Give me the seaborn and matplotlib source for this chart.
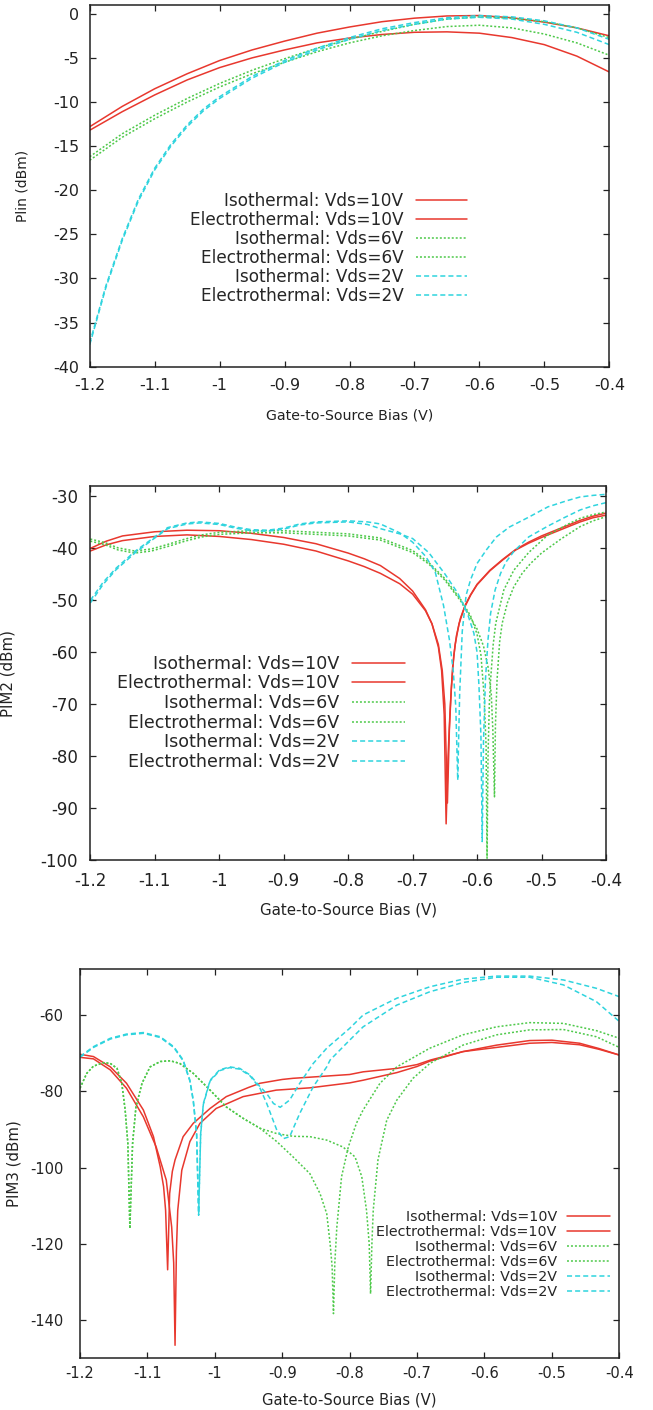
import matplotlib
matplotlib.use("Agg")
import matplotlib.pyplot as plt
import seaborn as sns
from pandas import DataFrame

# ---------------- shared axis data ----------------
x_ticks = [-1.2, -1.1, -1.0, -0.9, -0.8, -0.7, -0.6, -0.5, -0.4]
x_tick_labels = ["-1.2", "-1.1", "-1", "-0.9", "-0.8", "-0.7", "-0.6", "-0.5", "-0.4"]
labels = ["Isothermal: Vds=10V", "Electrothermal: Vds=10V",
          "Isothermal: Vds=6V", "Electrothermal: Vds=6V",
          "Isothermal: Vds=2V", "Electrothermal: Vds=2V"]

# ---------------- panel 1: Plin ----------------
plin_y_ticks = [0, -5, -10, -15, -20, -25, -30, -35, -40]
plin_x = [-1.2, -1.15, -1.1, -1.05, -1.0, -0.95, -0.9, -0.85, -0.8, -0.75, -0.7,
          -0.65, -0.6, -0.55, -0.5, -0.45, -0.4]
plin_iso_10 = [-12.8, -10.5, -8.5, -6.8, -5.3, -4.1, -3.1, -2.2, -1.5, -0.9, -0.5,
               -0.25, -0.2, -0.45, -0.95, -1.6, -2.5]
plin_elec_10 = [-13.2, -11.1, -9.2, -7.5, -6.1, -5.0, -4.1, -3.3, -2.75, -2.35, -2.1,
                -2.05, -2.2, -2.7, -3.5, -4.8, -6.6]
plin_iso_6 = [-16.2, -13.6, -11.5, -9.6, -7.9, -6.4, -5.1, -3.9, -2.9, -2.0, -1.2,
              -0.6, -0.35, -0.5, -0.9, -1.6, -2.7]
plin_elec_6 = [-16.6, -14.0, -11.9, -10.0, -8.3, -6.8, -5.5, -4.3, -3.3, -2.5, -1.9,
               -1.45, -1.3, -1.6, -2.3, -3.3, -4.7]
plin_x2 = [-1.2, -1.175, -1.15, -1.125, -1.1, -1.075, -1.05, -1.025, -1.0, -0.95, -0.9,
           -0.85, -0.8, -0.75, -0.7, -0.65, -0.6, -0.55, -0.5, -0.45, -0.4]
plin_iso_2 = [-37.3, -30.8, -25.5, -21.0, -17.5, -14.8, -12.6, -10.8, -9.4, -7.1, -5.3,
              -3.9, -2.7, -1.7, -1.0, -0.45, -0.2, -0.35, -0.8, -1.6, -2.9]
plin_elec_2 = [-37.5, -31.0, -25.7, -21.2, -17.7, -15.0, -12.8, -11.0, -9.6, -7.3, -5.5,
               -4.1, -2.9, -1.9, -1.2, -0.6, -0.4, -0.6, -1.2, -2.1, -3.5]

# ---------------- panel 2: PIM2 ----------------
pim2_y_ticks = [-30, -40, -50, -60, -70, -80, -90, -100]
pim2_x_iso_10 = [-1.2, -1.175, -1.15, -1.1, -1.05, -1.0, -0.95, -0.9, -0.85, -0.8, -0.775,
                 -0.75, -0.72, -0.7, -0.68, -0.67, -0.66, -0.655, -0.651, -0.648, -0.645,
                 -0.642, -0.638, -0.634, -0.628, -0.62, -0.61, -0.6, -0.58, -0.56, -0.54,
                 -0.52, -0.5, -0.47, -0.44, -0.42, -0.4]
pim2_iso_10 = [-40.0, -38.6, -37.6, -36.8, -36.5, -36.6, -37.1, -37.9, -39.1, -40.9, -42.0,
               -43.3, -45.8, -48.2, -51.8, -54.5, -59.0, -63.5, -72.0, -93.0, -80.0,
               -71.5, -63.0, -58.5, -54.5, -51.5, -49.0, -47.0, -44.3, -42.2, -40.3,
               -39.0, -37.9, -36.4, -34.9, -34.1, -33.6]
pim2_x_elec_10 = [-1.2, -1.175, -1.15, -1.1, -1.05, -1.0, -0.95, -0.9, -0.85, -0.8, -0.775,
                  -0.75, -0.72, -0.7, -0.68, -0.67, -0.66, -0.654, -0.65, -0.646, -0.643,
                  -0.64, -0.636, -0.632, -0.626, -0.618, -0.61, -0.6, -0.58, -0.56, -0.54,
                  -0.52, -0.5, -0.47, -0.44, -0.42, -0.4]
pim2_elec_10 = [-40.5, -39.3, -38.5, -37.7, -37.4, -37.7, -38.3, -39.2, -40.5, -42.4, -43.5,
                -44.8, -46.8, -48.8, -52.0, -54.5, -58.5, -63.5, -70.0, -89.0, -75.0,
                -67.0, -60.5, -56.8, -53.5, -50.8, -48.9, -46.9, -44.2, -42.1, -40.2,
                -38.8, -37.6, -36.1, -34.6, -33.8, -33.2]
pim2_x_iso_6 = [-1.2, -1.177, -1.157, -1.131, -1.105, -1.079, -1.053, -1.027, -1.0, -0.95,
                -0.9, -0.85, -0.8, -0.75, -0.7, -0.675, -0.65, -0.625, -0.61, -0.6, -0.594,
                -0.589, -0.586, -0.5845, -0.583, -0.581, -0.579, -0.575, -0.571, -0.5585,
                -0.543, -0.52, -0.49, -0.46, -0.44, -0.42, -0.4]
pim2_iso_6 = [-38.2, -38.9, -39.9, -40.5, -40.1, -39.2, -38.2, -37.4, -36.9, -36.6,
              -36.6, -36.9, -37.2, -38.0, -40.4, -42.7, -45.8, -49.9, -53.0, -56.5, -60.5,
              -68.5, -78.0, -99.6, -80.0, -70.0, -65.3, -58.5, -54.4, -48.0,
              -44.2, -40.8, -37.4, -35.4, -34.2, -33.5, -33.0]
pim2_x_elec_6 = [-1.2, -1.177, -1.157, -1.131, -1.105, -1.079, -1.053, -1.027, -1.0, -0.95,
                 -0.9, -0.85, -0.8, -0.75, -0.7, -0.675, -0.65, -0.625, -0.6, -0.59, -0.583,
                 -0.578, -0.5755, -0.573, -0.5715, -0.569, -0.565, -0.561, -0.553, -0.543,
                 -0.53, -0.517, -0.5, -0.47, -0.44, -0.42, -0.4]
pim2_elec_6 = [-38.6, -39.3, -40.3, -40.9, -40.5, -39.6, -38.6, -37.8, -37.3, -37.0,
               -37.0, -37.3, -37.6, -38.4, -40.8, -43.0, -46.1, -50.2, -55.5, -58.8, -62.8,
               -68.0, -75.0, -87.8, -74.0, -65.3, -58.0, -54.4, -50.5, -47.4,
               -44.8, -42.9, -40.9, -38.2, -35.8, -34.7, -33.9]
pim2_x_iso_2 = [-1.2, -1.18, -1.16, -1.13, -1.1, -1.08, -1.05, -1.03, -1.0, -0.975, -0.95,
                -0.925, -0.9, -0.875, -0.85, -0.8, -0.77, -0.75, -0.72, -0.7, -0.68, -0.665,
                -0.652, -0.643, -0.637, -0.633, -0.63, -0.627, -0.623, -0.617, -0.61, -0.6,
                -0.585, -0.57, -0.55, -0.52, -0.49, -0.46, -0.44, -0.42, -0.4]
pim2_iso_2 = [-50.0, -46.5, -43.8, -40.5, -37.8, -36.0, -35.1, -34.9, -35.2, -35.9, -36.4,
              -36.5, -36.1, -35.3, -34.9, -34.7, -34.9, -35.3, -37.0, -38.8, -41.5, -44.5,
              -51.0, -57.5, -63.5, -70.5, -84.6, -68.0, -56.0, -49.0, -46.0, -42.9,
              -40.2, -37.8, -35.9, -34.0, -32.0, -30.8, -30.1, -29.8, -29.6]
pim2_x_elec_2 = [-1.2, -1.18, -1.16, -1.13, -1.1, -1.08, -1.05, -1.03, -1.0, -0.975, -0.95,
                 -0.925, -0.9, -0.875, -0.85, -0.8, -0.77, -0.75, -0.72, -0.7, -0.675, -0.65,
                 -0.63, -0.615, -0.605, -0.6, -0.597, -0.594, -0.592, -0.59, -0.587, -0.583,
                 -0.579, -0.572, -0.5635, -0.555, -0.543, -0.52, -0.49, -0.465, -0.44,
                 -0.42, -0.4]
pim2_elec_2 = [-50.5, -46.9, -44.1, -40.8, -38.0, -36.2, -35.3, -35.1, -35.4, -36.1, -36.6,
               -36.7, -36.3, -35.5, -35.1, -34.9, -35.4, -36.2, -37.2, -38.1, -40.8, -44.9,
               -48.6, -52.5, -56.3, -60.0, -66.6, -76.0, -96.4, -77.0, -65.3, -57.5,
               -52.5, -48.0, -44.8, -42.6, -40.6, -37.8, -35.7, -34.1, -32.6,
               -31.8, -31.2]

# ---------------- panel 3: PIM3 ----------------
pim3_y_ticks = [-60, -80, -100, -120, -140]
pim3_x_iso_10 = [-1.2, -1.18, -1.155, -1.131, -1.106, -1.091, -1.081, -1.076, -1.073, -1.07,
                 -1.067, -1.063, -1.059, -1.047, -1.032, -1.007, -0.983, -0.95, -0.933,
                 -0.9, -0.884, -0.85, -0.8, -0.78, -0.73, -0.7, -0.68, -0.632, -0.582,
                 -0.533, -0.5, -0.459, -0.43, -0.4]
pim3_iso_10 = [-70.3, -70.9, -73.6, -77.9, -84.9, -91.9, -99.8, -105.0, -111.2, -126.8,
               -106.8, -101.0, -98.0, -91.9, -88.4, -84.5, -81.4, -79.0, -77.9,
               -76.9, -76.6, -76.2, -75.6, -74.9, -74.0, -73.0, -71.8, -69.6, -67.9,
               -66.7, -66.6, -67.4, -68.8, -70.5]
pim3_x_elec_10 = [-1.2, -1.18, -1.155, -1.131, -1.106, -1.087, -1.072, -1.064, -1.061,
                  -1.059, -1.057, -1.055, -1.049, -1.037, -1.022, -0.998, -0.958, -0.909,
                  -0.859, -0.8, -0.78, -0.73, -0.7, -0.681, -0.632, -0.582, -0.533, -0.5,
                  -0.459, -0.43, -0.4]
pim3_elec_10 = [-71.1, -71.5, -74.4, -79.2, -86.7, -94.6, -103.3, -115.6, -125.0,
                -146.6, -122.0, -111.2, -100.7, -93.2, -88.4, -84.5, -81.4, -79.7,
                -79.1, -77.8, -77.1, -75.1, -73.5, -72.1, -69.6, -68.5, -67.4, -67.2,
                -67.8, -69.0, -70.5]
pim3_x_iso_6 = [-1.2, -1.19, -1.18, -1.165, -1.155, -1.145, -1.138, -1.133, -1.129, -1.126,
                -1.122, -1.117, -1.108, -1.096, -1.081, -1.066, -1.052, -1.032, -1.007,
                -0.983, -0.958, -0.933, -0.908, -0.884, -0.859, -0.844, -0.834, -0.829,
                -0.826, -0.824, -0.822, -0.819, -0.812, -0.802, -0.79, -0.78, -0.755,
                -0.73, -0.681, -0.632, -0.582, -0.533, -0.483, -0.434, -0.4]
pim3_iso_6 = [-79.2, -75.3, -73.4, -72.5, -72.7, -74.0, -77.9, -84.9, -93.7, -116.0,
              -93.7, -84.1, -77.9, -73.6, -72.2, -72.0, -72.7, -75.3, -79.7,
              -84.1, -87.1, -89.7, -93.2, -97.2, -101.6, -106.8, -112.1, -119.9,
              -126.0, -138.3, -125.0, -115.6, -102.4, -94.6, -88.4, -84.9, -77.9,
              -73.6, -68.7, -65.2, -63.1, -62.0, -62.2, -64.1, -66.1]
pim3_x_elec_6 = [-1.2, -1.19, -1.18, -1.165, -1.155, -1.145, -1.138, -1.133, -1.129, -1.126,
                 -1.122, -1.117, -1.108, -1.096, -1.081, -1.066, -1.052, -1.032, -1.007,
                 -0.983, -0.958, -0.933, -0.908, -0.884, -0.859, -0.834, -0.81, -0.792,
                 -0.782, -0.775, -0.771, -0.769, -0.767, -0.765, -0.758, -0.745, -0.73,
                 -0.706, -0.681, -0.632, -0.582, -0.533, -0.483, -0.434, -0.4]
pim3_elec_6 = [-79.2, -75.3, -73.4, -72.5, -72.7, -74.0, -77.9, -84.9, -93.7, -116.0,
               -93.7, -84.1, -77.9, -73.6, -72.2, -72.0, -72.7, -75.3, -79.7,
               -84.1, -87.1, -89.7, -91.1, -91.8, -91.9, -92.8, -94.6, -97.2,
               -102.4, -111.2, -120.0, -133.1, -120.0, -111.2, -98.0, -87.6, -82.3,
               -76.6, -72.7, -67.9, -65.2, -63.9, -63.8, -65.7, -68.5]
pim3_x_iso_2 = [-1.2, -1.18, -1.155, -1.131, -1.106, -1.081, -1.061, -1.047, -1.037, -1.032,
                -1.027, -1.024, -1.021, -1.017, -1.007, -0.993, -0.978, -0.963, -0.948,
                -0.933, -0.923, -0.913, -0.903, -0.889, -0.874, -0.854, -0.834, -0.8,
                -0.78, -0.73, -0.681, -0.632, -0.582, -0.533, -0.483, -0.434, -0.4]
pim3_iso_2 = [-70.9, -68.3, -66.1, -65.0, -64.6, -65.7, -68.3, -71.8, -77.1, -82.3,
              -91.1, -112.5, -91.1, -83.2, -77.1, -74.4, -73.6, -74.0, -75.7,
              -78.8, -80.6, -83.2, -84.2, -82.3, -77.9, -72.7, -68.7, -63.5,
              -60.0, -55.6, -52.6, -50.6, -49.8, -49.8, -50.8, -53.0, -55.2]
pim3_x_elec_2 = [-1.2, -1.18, -1.155, -1.131, -1.106, -1.081, -1.061, -1.047, -1.037,
                 -1.032, -1.027, -1.024, -1.021, -1.017, -1.007, -0.993, -0.978, -0.963,
                 -0.948, -0.933, -0.923, -0.908, -0.898, -0.889, -0.874, -0.854, -0.834,
                 -0.829, -0.8, -0.78, -0.73, -0.681, -0.632, -0.582, -0.533, -0.483,
                 -0.434, -0.4]
pim3_elec_2 = [-71.1, -68.5, -66.3, -65.2, -64.8, -65.9, -68.5, -72.0, -77.3, -82.5,
               -91.3, -112.0, -91.3, -83.4, -77.3, -74.6, -73.8, -74.2, -75.9,
               -79.2, -83.2, -90.2, -92.4, -91.9, -85.8, -78.8, -73.6,
               -71.8, -66.6, -63.1, -57.4, -53.9, -51.5, -50.1, -50.1, -52.1,
               -56.5, -61.7]

# ---------------- style ----------------
sns.set_style("white")
plt.rcParams["font.family"] = ["DejaVu Sans"]
plt.rcParams["axes.unicode_minus"] = False

RED = "#e8382e"
GREEN = "#4ec94a"
CYAN = "#2fd4de"
SOLID = "-"
DOTS = (0, (1.3, 1.3))
DASH = (0, (3.3, 2.0))
colors = [RED, RED, GREEN, GREEN, CYAN, CYAN]
styles = [SOLID, SOLID, DOTS, DOTS, DASH, DASH]


def draw_panel(ax, xs_list, ys_list, ylim, yticks, ylabel, tick_fs, ylabel_fs,
               xlabel_fs, leg_fs, leg_anchor, leg_spacing, ytick_pad, xtick_pad,
               ylabel_x, xlabel_y):
    for xs, ys, lab, c, ls in zip(xs_list, ys_list, labels, colors, styles):
        df = DataFrame({"x": xs, "y": ys})
        sns.lineplot(data=df, x="x", y="y", ax=ax, color=c, linestyle=ls,
                     linewidth=1.1, label=lab, estimator=None, sort=False,
                     legend=False)
    ax.set_xlim(-1.2, -0.4)
    ax.set_ylim(*ylim)
    ax.set_xticks(x_ticks)
    ax.set_xticklabels(x_tick_labels)
    ax.set_yticks(yticks)
    ax.set_yticklabels([str(v) for v in yticks])
    ax.tick_params(axis="x", direction="in", top=True, bottom=True, length=4.5,
                   width=0.9, labelsize=tick_fs, pad=xtick_pad, colors="#222222")
    ax.tick_params(axis="y", direction="in", left=True, right=True, length=4.5,
                   width=0.9, labelsize=tick_fs, pad=ytick_pad, colors="#222222")
    for sp in ax.spines.values():
        sp.set_linewidth(1.1)
        sp.set_color("#222222")
    ax.set_xlabel("Gate-to-Source Bias (V)", fontsize=xlabel_fs, color="#222222",
                  va="top")
    ax.xaxis.set_label_coords(0.5, xlabel_y)
    ax.set_ylabel(ylabel, fontsize=ylabel_fs, color="#222222")
    ax.yaxis.set_label_coords(ylabel_x, 0.5)
    ax.legend(loc="center right", bbox_to_anchor=leg_anchor, frameon=False,
              markerfirst=False, fontsize=leg_fs, handlelength=3.0,
              handletextpad=0.75, labelspacing=leg_spacing, borderpad=0,
              borderaxespad=0)


fig = plt.figure(figsize=(6.53, 14.10), dpi=100)
ax1 = fig.add_axes([0.1374, 0.7399, 0.7957, 0.2566])
ax2 = fig.add_axes([0.1383, 0.3899, 0.7897, 0.2654])
ax3 = fig.add_axes([0.1225, 0.0367, 0.8259, 0.2759])

draw_panel(ax1,
           [plin_x, plin_x, plin_x, plin_x, plin_x2, plin_x2],
           [plin_iso_10, plin_elec_10, plin_iso_6, plin_elec_6, plin_iso_2, plin_elec_2],
           (-40, 1), plin_y_ticks, "Plin (dBm)", 11.5, 10, 10.2, 12.2,
           (0.726, 0.327), 0.065, 7.5, 8, -0.115, -0.115)

draw_panel(ax2,
           [pim2_x_iso_10, pim2_x_elec_10, pim2_x_iso_6, pim2_x_elec_6,
            pim2_x_iso_2, pim2_x_elec_2],
           [pim2_iso_10, pim2_elec_10, pim2_iso_6, pim2_elec_6, pim2_iso_2, pim2_elec_2],
           (-100, -28), pim2_y_ticks, "PIM2 (dBm)", 12, 10.8, 10.8, 12.6,
           (0.610, 0.394), 0.095, 9, 8.4, -0.146, -0.114)

draw_panel(ax3,
           [pim3_x_iso_10, pim3_x_elec_10, pim3_x_iso_6, pim3_x_elec_6,
            pim3_x_iso_2, pim3_x_elec_2],
           [pim3_iso_10, pim3_elec_10, pim3_iso_6, pim3_elec_6, pim3_iso_2, pim3_elec_2],
           (-150, -48), pim3_y_ticks, "PIM3 (dBm)", 10.5, 10.8, 10.6, 10.25,
           (0.983, 0.2666), 0.08, 12, 5.9, -0.109, -0.089)

fig.savefig("out.png", dpi=100)
